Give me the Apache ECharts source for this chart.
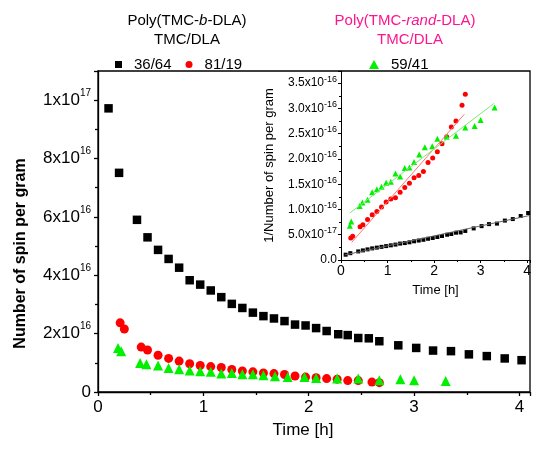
<!DOCTYPE html>
<html>
<head>
<meta charset="utf-8">
<script src="https://cdn.jsdelivr.net/npm/echarts@6/dist/echarts.min.js"></script>
<style>
  html, body { margin: 0; padding: 0; background: #fff; }
  #chart { width: 550px; height: 451px; }
</style>
</head>
<body>
<div id="chart"></div>
<script>
var FONT = '"Liberation Sans", Arial, sans-serif';

// time [h] of each measurement
var blackT = [0.10,0.20,0.37,0.47,0.57,0.67,0.77,0.87,0.97,1.07,1.17,1.27,1.37,1.47,1.57,1.67,1.77,1.87,1.97,2.07,2.17,2.28,2.37,2.47,2.57,2.67,2.85,3.02,3.18,3.35,3.52,3.69,3.86,4.02];
var redT = [0.21,0.25,0.41,0.47,0.57,0.67,0.77,0.87,0.97,1.07,1.17,1.27,1.37,1.47,1.57,1.67,1.77,1.87,1.97,2.07,2.17,2.27,2.37,2.47,2.60,2.67];
var greenT = [0.19,0.22,0.40,0.46,0.57,0.67,0.77,0.87,0.97,1.07,1.17,1.27,1.37,1.47,1.57,1.68,1.80,1.96,2.07,2.27,2.47,2.67,2.87,3.00,3.30];

// number of spin per gram, in units of 1e16
var blackN = [9.72,7.51,5.90,5.30,4.87,4.56,4.26,3.83,3.68,3.48,3.25,3.02,2.88,2.72,2.60,2.52,2.43,2.31,2.28,2.19,2.09,1.98,1.95,1.85,1.84,1.74,1.60,1.51,1.42,1.40,1.29,1.23,1.15,1.09];
var redN = [2.37,2.16,1.54,1.44,1.26,1.15,1.06,0.97,0.91,0.87,0.84,0.77,0.72,0.69,0.65,0.63,0.60,0.55,0.51,0.49,0.46,0.44,0.39,0.39,0.34,0.32];
var greenN = [1.51,1.40,0.99,0.95,0.91,0.82,0.78,0.74,0.71,0.69,0.63,0.65,0.61,0.61,0.57,0.54,0.51,0.51,0.48,0.46,0.46,0.40,0.44,0.40,0.38];

// inset: 1/number of spin per gram, in units of 1e-16
var blackInv = [0.105,0.135,0.17,0.19,0.21,0.23,0.245,0.26,0.275,0.29,0.305,0.325,0.335,0.35,0.37,0.385,0.40,0.42,0.435,0.455,0.475,0.50,0.515,0.54,0.545,0.575,0.625,0.67,0.71,0.72,0.78,0.81,0.87,0.93];
var redInv = [0.435,0.47,0.66,0.70,0.80,0.895,0.96,1.05,1.146,1.205,1.23,1.34,1.435,1.52,1.63,1.67,1.75,1.93,2.02,2.14,2.30,2.44,2.63,2.75,3.06,3.28];
var greenInv = [0.68,0.76,1.07,1.14,1.19,1.34,1.40,1.45,1.53,1.55,1.71,1.65,1.82,1.83,1.94,2.09,2.23,2.25,2.40,2.44,2.46,2.62,2.65,2.77,3.02];

// linear fits drawn in the inset (end points)
var fitBlack = [[0.08,0.10],[4.05,0.88]];
var fitRed = [[0.23,0.35],[2.65,2.885]];
var fitGreen = [[0.19,0.93],[3.29,3.10]];

var mainYTicks = [0,2,4,6,8,10];
var insetYTicks = [0,0.5,1,1.5,2,2.5,3,3.5];

var BLACK = '#000000', RED = '#ff0000', GREEN = '#00f000', PINK = '#ff1490';

function pairs(t, v) {
    var out = [];
    for (var i = 0; i < t.length; i++) out.push([t[i], v[i]]);
    return out;
}

function mainYLabel(v) {
    if (mainYTicks.indexOf(v) < 0) return '';
    if (v === 0) return '{b|0}';
    if (v === 10) return '{b|1x10}{s|17}';
    return '{b|' + v + 'x10}{s|16}';
}
function insetYLabel(v) {
    var r = Math.round(v * 10) / 10;
    if (insetYTicks.indexOf(r) < 0 || Math.abs(r - v) > 1e-6) return '';
    if (r === 0) return '{b|0.0}';
    if (r === 0.5) return '{b|5.0x10}{s|-17}';
    return '{b|' + r.toFixed(1) + 'x10}{s|-16}';
}
function intLabel(v) {
    return Math.abs(v - Math.round(v)) < 1e-6 ? String(Math.round(v)) : '';
}

var chart = echarts.init(document.getElementById('chart'));
var option = {
    animation: false,
    backgroundColor: '#fff',
    textStyle: { fontFamily: FONT },
    graphic: [
        { type: 'text', x: 187, y: 21, style: { text: 'Poly(TMC-{i|b}-DLA)', fill: BLACK, font: '15px ' + FONT, align: 'center', verticalAlign: 'middle',
            rich: { i: { fontStyle: 'italic', fontSize: 15, fontFamily: FONT, fill: BLACK } } } },
        { type: 'text', x: 187, y: 40, style: { text: 'TMC/DLA', fill: BLACK, font: '15px ' + FONT, align: 'center', verticalAlign: 'middle' } },
        { type: 'text', x: 405, y: 21, style: { text: 'Poly(TMC-{i|rand}-DLA)', fill: PINK, font: '15px ' + FONT, align: 'center', verticalAlign: 'middle',
            rich: { i: { fontStyle: 'italic', fontSize: 15, fontFamily: FONT, fill: PINK } } } },
        { type: 'text', x: 410, y: 40, style: { text: 'TMC/DLA', fill: PINK, font: '15px ' + FONT, align: 'center', verticalAlign: 'middle' } }
    ],
    legend: [
        { data: ['36/64', '81/19'], left: 110, top: 52, itemWidth: 7, itemHeight: 7, itemGap: 14,
          textStyle: { fontSize: 15, color: BLACK, fontFamily: FONT, padding: [0, 0, 0, 7] } },
        { data: ['59/41'], left: 364, top: 52, itemWidth: 10, itemHeight: 9,
          textStyle: { fontSize: 15, color: BLACK, fontFamily: FONT, padding: [0, 0, 0, 7] } }
    ],
    grid: [
        { left: 98, right: 20, top: 71, bottom: 59, show: true, borderColor: BLACK, borderWidth: 1.3, backgroundColor: 'transparent' },
        { left: 341, right: 20, top: 71, bottom: 191 }
    ],
    xAxis: [
        { gridIndex: 0, type: 'value', min: 0, max: 4.1, interval: 1,
          name: 'Time [h]', nameLocation: 'middle', nameGap: 30,
          nameTextStyle: { fontSize: 17, color: BLACK, fontFamily: FONT, padding: [0, 22, 0, 0] },
          axisLine: { lineStyle: { color: BLACK, width: 1.3 } },
          axisTick: { length: 4, lineStyle: { color: BLACK, width: 1.3 } },
          minorTick: { show: true, splitNumber: 2, length: 3, lineStyle: { color: BLACK, width: 1.3 } },
          axisLabel: { fontSize: 17, color: BLACK, margin: 7, formatter: intLabel },
          splitLine: { show: false } },
        { gridIndex: 1, type: 'value', min: 0, max: 4.06, interval: 1,
          name: 'Time [h]', nameLocation: 'middle', nameGap: 24,
          nameTextStyle: { fontSize: 13, color: BLACK, fontFamily: FONT },
          axisLine: { lineStyle: { color: BLACK, width: 1 } },
          axisTick: { length: 3, lineStyle: { color: BLACK, width: 1 } },
          minorTick: { show: true, splitNumber: 2, length: 2, lineStyle: { color: BLACK, width: 1 } },
          axisLabel: { fontSize: 14, color: BLACK, margin: 4, formatter: intLabel },
          splitLine: { show: false } }
    ],
    yAxis: [
        { gridIndex: 0, type: 'value', min: 0, max: 11, interval: 2,
          name: 'Number of spin per gram', nameLocation: 'middle', nameGap: 69,
          nameTextStyle: { fontSize: 16, fontWeight: 'bold', color: BLACK, fontFamily: FONT, padding: [0, 44, 0, 0] },
          axisLine: { lineStyle: { color: BLACK, width: 1.3 } },
          axisTick: { length: 4, lineStyle: { color: BLACK, width: 1.3 } },
          minorTick: { show: true, splitNumber: 2, length: 3, lineStyle: { color: BLACK, width: 1.3 } },
          axisLabel: { margin: 7, formatter: mainYLabel,
              rich: { b: { fontSize: 17, lineHeight: 24, color: BLACK, fontFamily: FONT },
                      s: { fontSize: 10, lineHeight: 10, verticalAlign: 'top', color: BLACK, fontFamily: FONT } } },
          splitLine: { show: false } },
        { gridIndex: 1, type: 'value', min: 0, max: 3.74, interval: 0.5,
          name: '1/Number of spin per gram', nameLocation: 'middle', nameGap: 65,
          nameTextStyle: { fontSize: 13, color: BLACK, fontFamily: FONT },
          axisLine: { lineStyle: { color: BLACK, width: 1 } },
          axisTick: { length: 3, lineStyle: { color: BLACK, width: 1 } },
          minorTick: { show: true, splitNumber: 2, length: 2, lineStyle: { color: BLACK, width: 1 } },
          axisLabel: { margin: 4, formatter: insetYLabel,
              rich: { b: { fontSize: 12, lineHeight: 17, color: BLACK, fontFamily: FONT },
                      s: { fontSize: 9, lineHeight: 9, verticalAlign: 'top', color: BLACK, fontFamily: FONT } } },
          splitLine: { show: false } }
    ],
    series: [
        { name: '36/64', type: 'scatter', xAxisIndex: 0, yAxisIndex: 0, symbol: 'rect', symbolSize: 8.5,
          itemStyle: { color: BLACK, opacity: 1 }, data: pairs(blackT, blackN) },
        { name: '81/19', type: 'scatter', xAxisIndex: 0, yAxisIndex: 0, symbol: 'circle', symbolSize: 9,
          itemStyle: { color: RED, opacity: 1 }, data: pairs(redT, redN) },
        { name: '59/41', type: 'scatter', xAxisIndex: 0, yAxisIndex: 0, symbol: 'triangle', symbolSize: 10,
          itemStyle: { color: GREEN, opacity: 1 }, data: pairs(greenT, greenN) },

        { name: 'fitBlack', type: 'line', xAxisIndex: 1, yAxisIndex: 1, showSymbol: false, silent: true,
          lineStyle: { color: '#666', width: 1 }, data: fitBlack },
        { name: 'fitRed', type: 'line', xAxisIndex: 1, yAxisIndex: 1, showSymbol: false, silent: true,
          lineStyle: { color: '#ff7777', width: 1 }, data: fitRed },
        { name: 'fitGreen', type: 'line', xAxisIndex: 1, yAxisIndex: 1, showSymbol: false, silent: true,
          lineStyle: { color: '#77ee77', width: 1 }, data: fitGreen },
        { name: 'inv36/64', type: 'scatter', xAxisIndex: 1, yAxisIndex: 1, symbol: 'rect', symbolSize: 4,
          itemStyle: { color: BLACK, opacity: 1 }, data: pairs(blackT, blackInv) },
        { name: 'inv81/19', type: 'scatter', xAxisIndex: 1, yAxisIndex: 1, symbol: 'circle', symbolSize: 5,
          itemStyle: { color: RED, opacity: 1 }, data: pairs(redT, redInv) },
        { name: 'inv59/41', type: 'scatter', xAxisIndex: 1, yAxisIndex: 1, symbol: 'triangle', symbolSize: 6,
          itemStyle: { color: GREEN, opacity: 1 }, data: pairs(greenT, greenInv) }
    ]
};
chart.setOption(option);
</script>
</body>
</html>
